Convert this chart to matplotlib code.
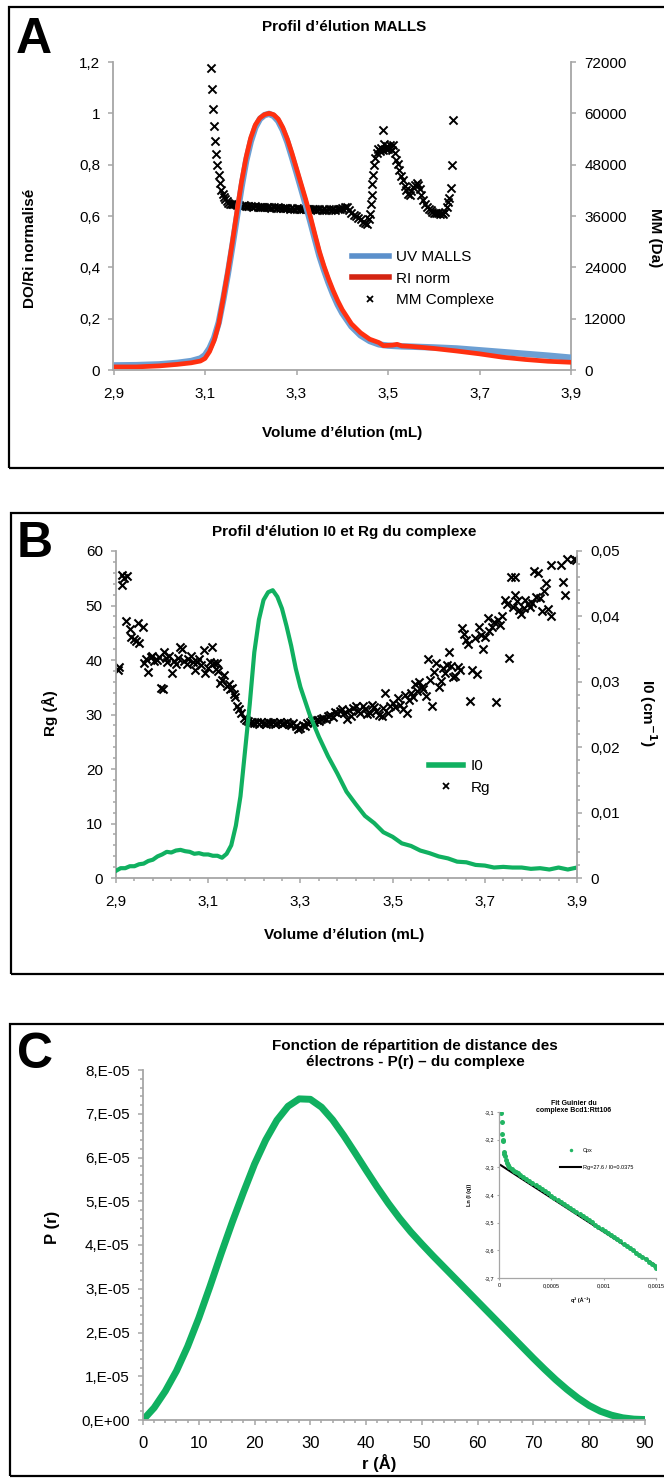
import matplotlib
matplotlib.use('Agg')
import matplotlib.pyplot as plt
from matplotlib.lines import Line2D
from matplotlib.patches import Rectangle

plt.rcParams['font.family'] = ['Liberation Sans', 'DejaVu Sans']

# ---------------- données panneau A (MALLS) ----------------
vol_a = [2.90, 2.95, 3.00, 3.04, 3.07, 3.09, 3.10, 3.11, 3.12, 3.13, 3.14, 3.15, 3.16,
         3.17, 3.18, 3.19, 3.20, 3.21, 3.22, 3.23, 3.24, 3.25, 3.26, 3.27, 3.28, 3.29,
         3.30, 3.31, 3.32, 3.33, 3.34, 3.35, 3.36, 3.37, 3.38, 3.39, 3.40, 3.42, 3.44,
         3.46, 3.48, 3.49, 3.50, 3.51, 3.52, 3.53, 3.55, 3.60, 3.65, 3.70, 3.75, 3.80,
         3.85, 3.90]
uv_malls = [0.018, 0.019, 0.022, 0.028, 0.035, 0.045, 0.058, 0.085, 0.125, 0.185, 0.275,
            0.375, 0.485, 0.600, 0.715, 0.815, 0.890, 0.945, 0.978, 0.993, 0.998, 0.990,
            0.970, 0.935, 0.888, 0.830, 0.770, 0.708, 0.645, 0.580, 0.512, 0.445, 0.390,
            0.340, 0.295, 0.255, 0.222, 0.170, 0.135, 0.113, 0.100, 0.097, 0.095, 0.094,
            0.093, 0.092, 0.091, 0.088, 0.084, 0.077, 0.070, 0.063, 0.056, 0.048]
ri_norm = [0.012, 0.012, 0.016, 0.022, 0.028, 0.035, 0.045, 0.072, 0.115, 0.180, 0.280,
           0.385, 0.500, 0.620, 0.735, 0.830, 0.905, 0.955, 0.982, 0.995, 1.000, 0.995,
           0.978, 0.945, 0.900, 0.845, 0.785, 0.725, 0.665, 0.600, 0.530, 0.462, 0.405,
           0.355, 0.310, 0.270, 0.235, 0.180, 0.145, 0.120, 0.107, 0.095, 0.096, 0.097,
           0.100, 0.094, 0.092, 0.084, 0.074, 0.063, 0.050, 0.041, 0.034, 0.030]

mm_vol = [3.114, 3.115, 3.118, 3.120, 3.122, 3.124, 3.127, 3.130, 3.133, 3.136, 3.139,
          3.141, 3.144, 3.147, 3.150, 3.154, 3.158, 3.162,
          3.165, 3.170, 3.175, 3.180, 3.185, 3.190, 3.195, 3.200, 3.205, 3.210, 3.215,
          3.220, 3.225, 3.230, 3.235, 3.240, 3.245, 3.250, 3.255, 3.260, 3.265, 3.270,
          3.275, 3.280, 3.285, 3.290, 3.295, 3.300, 3.305, 3.310, 3.315, 3.320, 3.325,
          3.330, 3.335, 3.340, 3.345, 3.350, 3.355, 3.360, 3.365, 3.370, 3.375, 3.380,
          3.385, 3.390, 3.395, 3.400, 3.405, 3.410, 3.415, 3.420, 3.425, 3.430, 3.435,
          3.440, 3.445, 3.450, 3.455, 3.458, 3.460, 3.462, 3.464, 3.466, 3.468, 3.470,
          3.472, 3.475, 3.478, 3.482, 3.485, 3.488, 3.490, 3.492, 3.495, 3.498, 3.501,
          3.505, 3.508, 3.512, 3.515, 3.518, 3.521, 3.525, 3.529, 3.533, 3.537, 3.540,
          3.544, 3.547, 3.551, 3.555, 3.559, 3.563, 3.566, 3.569, 3.573, 3.577, 3.581,
          3.585, 3.589, 3.593, 3.597, 3.601, 3.605, 3.609, 3.613, 3.617, 3.621, 3.625,
          3.628, 3.631, 3.634, 3.637, 3.639, 3.641]
mm_da = [70600, 65600, 61000, 57000, 53600, 50600, 47900, 45600, 43700, 42100, 41200,
         40500, 39900, 39400, 39000, 38900, 38800, 38700,
         38700, 38500, 38600, 38400, 38500, 38300, 38400, 38300, 38200, 38300, 38100,
         38200, 38000, 38100, 38000, 38100, 37900, 38000, 37900, 38000, 37800, 37900,
         37800, 37900, 37700, 37800, 37700, 37800, 37700, 37600, 37700, 37600, 37700,
         37600, 37700, 37600, 37500, 37600, 37500, 37600, 37500, 37600, 37500, 37600,
         37500, 37600, 37700, 37900, 38200, 38000, 37400, 36700, 36300, 35900, 35500,
         35200, 34700, 34300, 34100, 35200, 36500, 38900, 41000, 43500, 45500, 47900,
         49500, 50800, 51600, 51200, 52000, 51500, 56100, 52800, 51700, 52300, 51600,
         52500, 51400, 52600, 50700, 49200, 48200, 46800, 45400, 44300, 43000, 42100,
         41200, 40800, 41800, 42700, 43300, 43800, 43200, 42200, 41000, 39800, 38800,
         38100, 37600, 37300, 37000, 36800, 36600, 36700, 36500, 36600, 36500, 37000,
         38000, 39300, 40300, 42500, 48000, 58400]

# ---------------- données panneau B (SAXS I0 / Rg) ----------------
i0_vol = [2.90, 2.91, 2.92, 2.93, 2.94, 2.95, 2.96, 2.97, 2.98, 2.99, 3.00, 3.01, 3.02,
          3.03, 3.04, 3.05, 3.06, 3.07, 3.08, 3.09, 3.10, 3.11, 3.12, 3.13, 3.14, 3.15,
          3.16, 3.17, 3.18, 3.19, 3.20, 3.21, 3.22, 3.23, 3.24, 3.25, 3.26, 3.27, 3.28,
          3.29, 3.30, 3.32, 3.34, 3.36, 3.38, 3.40, 3.42, 3.44, 3.46, 3.48, 3.50, 3.52,
          3.54, 3.56, 3.58, 3.60, 3.62, 3.64, 3.66, 3.68, 3.70, 3.72, 3.74, 3.76, 3.78,
          3.80, 3.82, 3.84, 3.86, 3.88, 3.90]
i0_cm = [0.0011, 0.0015, 0.0015, 0.0018, 0.0018, 0.0021, 0.0022, 0.0026, 0.0028, 0.0033,
         0.0036, 0.0040, 0.0039, 0.0042, 0.0043, 0.0041, 0.0040, 0.0037, 0.0038, 0.0036,
         0.0036, 0.0034, 0.0034, 0.0031, 0.0037, 0.0050, 0.0080, 0.0125, 0.0195, 0.0265,
         0.0345, 0.0395, 0.0425, 0.0437, 0.0440, 0.0430, 0.0412, 0.0385, 0.0355, 0.0320,
         0.0292, 0.0250, 0.0216, 0.0186, 0.0160, 0.0132, 0.0113, 0.0095, 0.0084, 0.0070,
         0.0063, 0.0053, 0.0049, 0.0042, 0.0038, 0.0033, 0.0030, 0.0025, 0.0024, 0.0020,
         0.0019, 0.0016, 0.0017, 0.0016, 0.0016, 0.0014, 0.0015, 0.0013, 0.0016, 0.0013,
         0.0016]

rg_vol = [2.904, 2.906, 2.912, 2.914, 2.917, 2.924, 2.921, 2.930, 2.933, 2.938, 2.943,
          2.947, 2.950, 2.958, 2.961, 2.966, 2.970, 2.975, 2.979, 2.983, 2.988, 2.993,
          2.998, 3.002, 3.004, 3.008, 3.011, 3.016, 3.021, 3.025, 3.030, 3.035, 3.039,
          3.043, 3.048, 3.053, 3.057, 3.062, 3.066, 3.071, 3.075, 3.080, 3.085, 3.090,
          3.094, 3.099, 3.104, 3.108, 3.112, 3.116, 3.119, 3.122, 3.126, 3.130, 3.135,
          3.140, 3.145, 3.148, 3.152, 3.156, 3.159, 3.163, 3.167, 3.172, 3.177, 3.182,
          3.186, 3.190, 3.195, 3.200, 3.205, 3.210, 3.215, 3.220, 3.225, 3.230, 3.235,
          3.240, 3.245, 3.250, 3.255, 3.260, 3.265, 3.270, 3.275, 3.280, 3.285, 3.290,
          3.295, 3.300, 3.305, 3.310, 3.315, 3.320, 3.325, 3.330, 3.335, 3.340, 3.345,
          3.350, 3.355, 3.360, 3.365, 3.370, 3.375, 3.380, 3.385, 3.390, 3.395, 3.400,
          3.405, 3.410, 3.415, 3.420, 3.425, 3.430, 3.435, 3.440, 3.445, 3.450, 3.455,
          3.460, 3.465, 3.470, 3.476, 3.480, 3.484, 3.490, 3.494, 3.500, 3.505, 3.512,
          3.517, 3.522, 3.527, 3.531, 3.536, 3.540, 3.545, 3.549, 3.553, 3.558, 3.563,
          3.567, 3.572, 3.577, 3.581, 3.586, 3.590, 3.595, 3.600, 3.604, 3.609, 3.614,
          3.618, 3.623, 3.627, 3.632, 3.636, 3.641, 3.646, 3.650, 3.655, 3.659, 3.664,
          3.668, 3.673, 3.678, 3.683, 3.687, 3.692, 3.697, 3.701, 3.706, 3.710, 3.715,
          3.720, 3.724, 3.729, 3.734, 3.738, 3.743, 3.748, 3.752, 3.757, 3.761, 3.766,
          3.766, 3.770, 3.775, 3.779, 3.784, 3.788, 3.793, 3.797, 3.802, 3.806, 3.811,
          3.815, 3.820, 3.824, 3.829, 3.833, 3.838, 3.843, 3.843, 3.865, 3.870, 3.874,
          3.879, 3.893, 3.897]
rg_ang = [38.2, 38.8, 55.6, 53.8, 55.0, 55.5, 47.2, 45.6, 44.3, 43.9, 43.4,
          46.7, 43.2, 46.0, 39.4, 40.2, 37.8, 40.6, 40.8, 39.8, 40.0, 40.5,
          34.8, 34.6, 41.5, 40.3, 39.6, 40.8, 37.7, 39.8, 39.2, 40.4, 42.3,
          42.1, 39.9, 39.3, 40.2, 40.8, 39.7, 38.1, 39.6, 40.1, 39.0, 41.9,
          37.7, 38.6, 39.7, 42.3, 39.5, 38.4, 39.5, 38.0, 35.8, 36.4, 37.3,
          35.2, 35.6, 34.6, 34.9, 33.8, 33.2, 31.6, 31.0, 30.3, 29.4, 29.0,
          28.8, 28.5, 28.7, 28.4, 28.6, 28.3, 28.7, 28.5, 28.3, 28.6, 28.4,
          28.7, 28.3, 28.5, 28.6, 28.2, 28.5, 28.7, 28.3, 28.0, 28.4, 27.8,
          27.3, 27.6, 28.1, 27.9, 28.4, 28.6, 28.9, 28.7, 29.0, 28.8, 29.2,
          29.4, 29.1, 29.8, 30.0, 29.6, 30.4, 30.2, 30.6, 31.0, 30.3, 29.1,
          30.8, 29.7, 31.2, 31.6, 30.7, 30.3, 31.5, 31.0, 30.1, 30.3, 31.8,
          31.3, 30.6, 30.0, 29.7, 31.2, 34.0, 30.3, 31.5, 32.1, 31.4, 33.0,
          31.8, 31.0, 33.5, 30.3, 32.7, 34.0, 33.2, 35.6, 34.3, 35.9, 35.0,
          34.6, 33.4, 40.1, 36.4, 31.5, 37.8, 39.5, 35.1, 36.2, 38.5, 37.7,
          39.0, 41.4, 38.9, 36.9, 37.0, 38.8, 38.1, 45.9, 44.8, 43.7, 42.9,
          32.4, 38.1, 44.0, 37.5, 46.1, 44.5, 42.1, 44.3, 47.7, 45.4, 46.1,
          47.0, 32.3, 47.3, 46.5, 48.0, 51.1, 50.3, 40.4, 55.3, 49.7, 55.3,
          51.9, 50.8, 49.2, 48.5, 49.6, 51.1, 50.2, 49.7, 50.5, 56.4, 51.6,
          56.0, 51.3, 48.9, 52.6, 54.2, 49.4, 48.0, 57.4, 57.4, 54.4, 52.0,
          58.6, 58.6, 58.3]

# ---------------- données panneau C (P(r) + Guinier) ----------------
r_ang = [0, 2, 4, 6, 8, 10, 12, 14, 16, 18, 20, 22, 24, 26, 28, 30, 32, 34, 36, 38, 40,
         42, 44, 46, 48, 50, 52, 54, 56, 58, 60, 62, 64, 66, 68, 70, 72, 74, 76, 78, 80,
         82, 84, 86, 88, 90]
pr_e5 = [0.00, 0.28, 0.66, 1.12, 1.68, 2.33, 3.05, 3.80, 4.52, 5.20, 5.85, 6.40, 6.85,
         7.17, 7.34, 7.33, 7.15, 6.86, 6.50, 6.11, 5.71, 5.32, 4.95, 4.61, 4.30, 4.02,
         3.75, 3.49, 3.23, 2.97, 2.71, 2.45, 2.19, 1.93, 1.67, 1.41, 1.16, 0.92, 0.70,
         0.50, 0.33, 0.20, 0.11, 0.05, 0.02, 0.01]

q2_e4 = [0.2, 0.25, 0.3, 0.35, 0.4, 0.45, 0.5, 0.6, 0.7, 0.8, 0.9, 1.0, 1.2, 1.4, 1.6,
         1.8, 2.0, 2.3, 2.6, 2.9, 3.2, 3.5, 3.8, 4.1, 4.4, 4.7, 5.0, 5.3, 5.6, 5.9, 6.2,
         6.5, 6.8, 7.1, 7.4, 7.7, 8.0, 8.3, 8.6, 8.9, 9.2, 9.5, 9.8, 10.1, 10.4, 10.7,
         11.0, 11.3, 11.6, 11.9, 12.2, 12.5, 12.8, 13.1, 13.4, 13.7, 14.0, 14.3, 14.6,
         14.9, 15.0]
ln_iq = [-3.105, -3.135, -3.178, -3.203, -3.205, -3.243, -3.250, -3.258, -3.274, -3.285,
         -3.291, -3.299, -3.307, -3.312, -3.317, -3.322, -3.328, -3.335, -3.343, -3.350,
         -3.357, -3.365, -3.372, -3.379, -3.387, -3.394, -3.402, -3.410, -3.417, -3.424,
         -3.432, -3.439, -3.446, -3.454, -3.461, -3.469, -3.477, -3.484, -3.491, -3.499,
         -3.507, -3.514, -3.522, -3.529, -3.537, -3.545, -3.553, -3.560, -3.568, -3.576,
         -3.583, -3.592, -3.600, -3.608, -3.616, -3.624, -3.632, -3.641, -3.649, -3.658,
         -3.663]
fit_q2_e4 = [0.16, 15.0]
fit_ln = [-3.292, -3.655]

# ---------------- mise en page ----------------
W, H = 664, 1480
GREY = '#A6A6A6'


def rect(left, top, right, bottom):
    return [left / W, 1 - bottom / H, (right - left) / W, (bottom - top) / H]


def fx(x):
    return x / W


def fy(y):
    return 1 - y / H


def style(ax, sides, labelsize=11):
    for s in ['left', 'right', 'top', 'bottom']:
        ax.spines[s].set_visible(s in sides)
        ax.spines[s].set_color(GREY)
        ax.spines[s].set_linewidth(1.3)
    ax.tick_params(which='both', direction='out', color=GREY, labelsize=labelsize, pad=6)
    ax.tick_params(which='major', length=3.5, width=1.1)
    ax.tick_params(which='minor', length=2.5, width=1.1)


fig = plt.figure(figsize=(W / 100, H / 100), dpi=100)

# cadres
for left, top, bottom in [(9, 7, 468), (11, 513, 974), (10, 1024, 1476)]:
    fig.patches.append(Rectangle((fx(left), fy(bottom)), (700 - left) / W, (bottom - top) / H,
                                 transform=fig.transFigure, fill=False, lw=1.6,
                                 edgecolor='black', clip_on=False))

# ---------- A ----------
axA = fig.add_axes(rect(113.5, 62, 571, 370))
axA_r = axA.twinx()
axA.set_zorder(axA_r.get_zorder() + 1)
axA.patch.set_visible(False)

axA_r.scatter(mm_vol, mm_da, marker='x', s=34, c='black', linewidths=1.4)
axA.plot(vol_a, uv_malls, color='#6C9FD3', lw=4.6, solid_capstyle='butt')
axA.plot(vol_a, ri_norm, color='#FF3010', lw=3.4, solid_capstyle='butt')

axA.set_xlim(2.9, 3.9)
axA.set_ylim(0, 1.2)
axA_r.set_ylim(0, 72000)
axA.set_xticks([2.9, 3.1, 3.3, 3.5, 3.7, 3.9])
axA.set_xticklabels(['2,9', '3,1', '3,3', '3,5', '3,7', '3,9'])
axA.set_yticks([0, 0.2, 0.4, 0.6, 0.8, 1.0, 1.2])
axA.set_yticklabels(['0', '0,2', '0,4', '0,6', '0,8', '1', '1,2'])
axA_r.set_yticks([0, 12000, 24000, 36000, 48000, 60000, 72000])
axA_r.set_yticklabels(['0', '12000', '24000', '36000', '48000', '60000', '72000'])
style(axA, ['left', 'bottom'])
style(axA_r, ['right'])
axA.tick_params(axis='x', pad=9)

handlesA = [Line2D([], [], color='#5B90CB', lw=4),
            Line2D([], [], color='#D42412', lw=4),
            Line2D([], [], color='black', marker='x', ls='none', ms=5, mew=1.3)]
axA.legend(handlesA, ['UV MALLS', 'RI norm', 'MM Complexe'], loc='upper left',
           bbox_to_anchor=(fx(352), fy(250)), bbox_transform=fig.transFigure,
           frameon=False, fontsize=11, handlelength=2.4, handletextpad=0.5,
           labelspacing=0.5, borderpad=0, borderaxespad=0)

fig.text(fx(344), fy(27), 'Profil d’élution MALLS', ha='center', va='center',
         fontsize=11, fontweight='bold')
fig.text(fx(342), fy(433), 'Volume d’élution (mL)', ha='center', va='center',
         fontsize=11, fontweight='bold')
fig.text(fx(30), fy(248), 'DO/Ri normalisé', ha='center', va='center', rotation=90,
         fontsize=11, fontweight='bold')
fig.text(fx(655), fy(238), 'MM (Da)', ha='center', va='center', rotation=270,
         fontsize=11, fontweight='bold')
fig.text(fx(16), fy(53), 'A', ha='left', va='baseline', fontsize=36, fontweight='bold')

# ---------- B ----------
axB = fig.add_axes(rect(116, 551, 577, 878))
axB_r = axB.twinx()
axB.scatter(rg_vol, rg_ang, marker='x', s=34, c='black', linewidths=1.5)
axB_r.plot(i0_vol, i0_cm, color='#10B060', lw=3.0)

axB.set_xlim(2.9, 3.9)
axB.set_ylim(0, 60)
axB_r.set_ylim(0, 0.05)
axB.set_xticks([2.9, 3.1, 3.3, 3.5, 3.7, 3.9])
axB.set_xticklabels(['2,9', '3,1', '3,3', '3,5', '3,7', '3,9'])
axB.set_xticks([2.94, 2.98, 3.02, 3.06, 3.14, 3.18, 3.22, 3.26, 3.34, 3.38, 3.42, 3.46,
                3.54, 3.58, 3.62, 3.66, 3.74, 3.78, 3.82, 3.86], minor=True)
axB.set_yticks([0, 10, 20, 30, 40, 50, 60])
axB.set_yticks([2, 4, 6, 8, 12, 14, 16, 18, 22, 24, 26, 28, 32, 34, 36, 38, 42, 44, 46,
                48, 52, 54, 56, 58], minor=True)
axB_r.set_yticks([0, 0.01, 0.02, 0.03, 0.04, 0.05])
axB_r.set_yticklabels(['0', '0,01', '0,02', '0,03', '0,04', '0,05'])
axB_r.set_yticks([0.002, 0.004, 0.006, 0.008, 0.012, 0.014, 0.016, 0.018, 0.022, 0.024,
                  0.026, 0.028, 0.032, 0.034, 0.036, 0.038, 0.042, 0.044, 0.046, 0.048],
                 minor=True)
style(axB, ['left', 'bottom'])
style(axB_r, ['right'])
axB.tick_params(axis='x', pad=9)

handlesB = [Line2D([], [], color='#10B060', lw=4),
            Line2D([], [], color='black', marker='x', ls='none', ms=5, mew=1.3)]
axB.legend(handlesB, ['I0', 'Rg'], loc='upper left',
           bbox_to_anchor=(fx(429), fy(759)), bbox_transform=fig.transFigure,
           frameon=False, fontsize=11, handlelength=2.2, handletextpad=0.55,
           labelspacing=0.5, borderpad=0, borderaxespad=0)

fig.text(fx(344), fy(532), "Profil d'élution I0 et Rg du complexe", ha='center',
         va='center', fontsize=11, fontweight='bold')
fig.text(fx(344), fy(935), 'Volume d’élution (mL)', ha='center', va='center',
         fontsize=11, fontweight='bold')
fig.text(fx(50), fy(713), 'Rg (Å)', ha='center', va='center', rotation=90,
         fontsize=11, fontweight='bold')
fig.text(fx(648), fy(713), 'I0 (cm$^{\\mathbf{-1}}$)', ha='center', va='center',
         rotation=270, fontsize=11, fontweight='bold')
fig.text(fx(17), fy(557), 'B', ha='left', va='baseline', fontsize=36, fontweight='bold')

# ---------- C ----------
axC = fig.add_axes(rect(143, 1070, 645, 1420))
axC.plot(r_ang, pr_e5, color='#10B060', lw=5, solid_capstyle='round',
         solid_joinstyle='round')
axC.set_xlim(0, 90)
axC.set_ylim(0, 8)
axC.set_xticks([0, 10, 20, 30, 40, 50, 60, 70, 80, 90])
axC.set_xticks([2, 4, 6, 8, 12, 14, 16, 18, 22, 24, 26, 28, 32, 34, 36, 38, 42, 44, 46,
                48, 52, 54, 56, 58, 62, 64, 66, 68, 72, 74, 76, 78, 82, 84, 86, 88],
               minor=True)
axC.set_yticks([0, 1, 2, 3, 4, 5, 6, 7, 8])
axC.set_yticklabels(['0,E+00', '1,E-05', '2,E-05', '3,E-05', '4,E-05', '5,E-05',
                     '6,E-05', '7,E-05', '8,E-05'])
axC.set_yticks([0.2, 0.4, 0.6, 0.8, 1.2, 1.4, 1.6, 1.8, 2.2, 2.4, 2.6, 2.8, 3.2, 3.4,
                3.6, 3.8, 4.2, 4.4, 4.6, 4.8, 5.2, 5.4, 5.6, 5.8, 6.2, 6.4, 6.6, 6.8,
                7.2, 7.4, 7.6, 7.8], minor=True)
style(axC, ['left', 'bottom'])
axC.tick_params(axis='x', labelsize=12, pad=8)

fig.text(fx(415), fy(1054), 'Fonction de répartition de distance des\n'
         'électrons - P(r) – du complexe', ha='center', va='center', fontsize=11,
         fontweight='bold', linespacing=1.15)
fig.text(fx(379), fy(1463), 'r (Å)', ha='center', va='center', fontsize=12,
         fontweight='bold')
fig.text(fx(53), fy(1227), 'P (r)', ha='center', va='center', rotation=90,
         fontsize=12, fontweight='bold')
fig.text(fx(17), fy(1068), 'C', ha='left', va='baseline', fontsize=36, fontweight='bold')

# encart Guinier
axIn = fig.add_axes(rect(499, 1112, 656, 1278))
axIn.patch.set_visible(False)
axIn.plot(fit_q2_e4, fit_ln, color='black', lw=1.5)
axIn.plot(q2_e4, ln_iq, 'o', color='#22B563', ms=3.6, mew=0)
axIn.set_xlim(0, 15)
axIn.set_ylim(-3.7, -3.1)
axIn.set_xticks([0, 5, 10, 15])
axIn.set_xticklabels(['0', '0,0005', '0,001', '0,0015'])
axIn.set_yticks([-3.7, -3.6, -3.5, -3.4, -3.3, -3.2, -3.1])
axIn.set_yticklabels(['-3,7', '-3,6', '-3,5', '-3,4', '-3,3', '-3,2', '-3,1'])
style(axIn, ['left', 'bottom'], labelsize=4)
axIn.tick_params(which='major', length=1.5, width=0.8, pad=2)
for s in ['left', 'bottom']:
    axIn.spines[s].set_linewidth(0.9)

handlesIn = [Line2D([], [], color='#22B563', marker='o', ls='none', ms=2.5, mew=0),
             Line2D([], [], color='black', lw=1.5)]
axIn.legend(handlesIn, ['Cpx', 'Rg=27.6 / I0=0.0375'], loc='upper left',
            bbox_to_anchor=(fx(560), fy(1148)), bbox_transform=fig.transFigure,
            frameon=False, fontsize=4, handlelength=3.8, handletextpad=0.3,
            labelspacing=2.2, borderpad=0, borderaxespad=0)

fig.text(fx(574), fy(1107), 'Fit Guinier du\ncomplexe Bcd1:Rtt106', ha='center',
         va='center', fontsize=5, fontweight='bold', linespacing=1.1)
fig.text(fx(581), fy(1300), 'q² (Å⁻²)', ha='center', va='center', fontsize=4,
         fontweight='bold')
fig.text(fx(469), fy(1195), 'Ln (I (q))', ha='center', va='center', rotation=90,
         fontsize=4, fontweight='bold')

fig.savefig('out.png', dpi=100)
